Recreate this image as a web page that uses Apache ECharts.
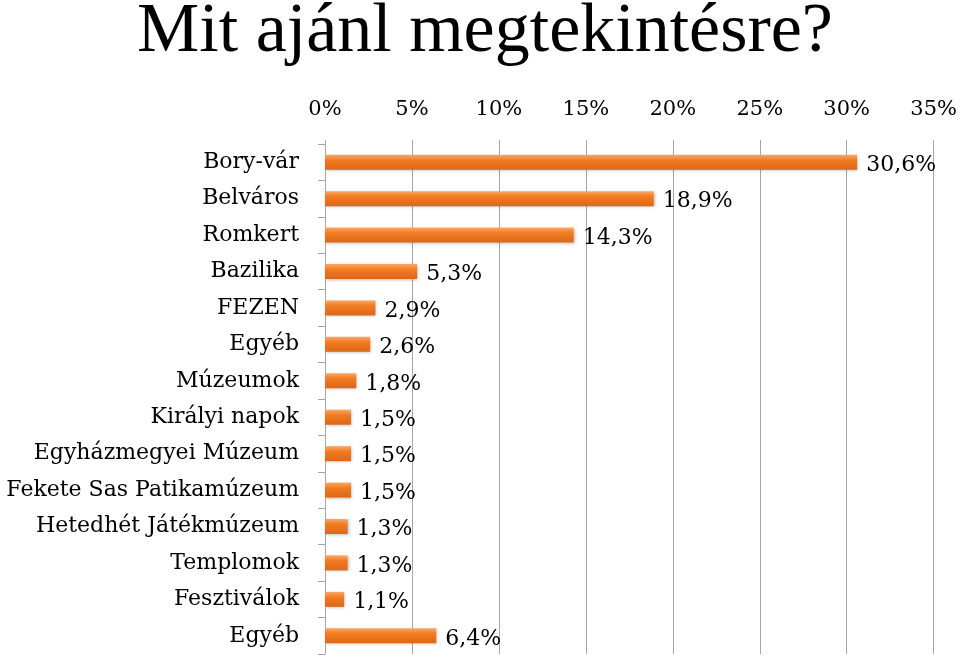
<!DOCTYPE html>
<html>
<head>
<meta charset="utf-8">
<script src="https://cdn.jsdelivr.net/npm/echarts@6/dist/echarts.min.js"></script>
<style>
html,body{margin:0;padding:0;background:#fff;}
#c{width:960px;height:657px;}
</style>
</head>
<body>
<div id="c"></div>
<script>
const titleText = 'Mit ajánl megtekintésre?';
const categories = ['Bory-vár','Belváros','Romkert','Bazilika','FEZEN','Egyéb','Múzeumok','Királyi napok','Egyházmegyei Múzeum','Fekete Sas Patikamúzeum','Hetedhét Játékmúzeum','Templomok','Fesztiválok','Egyéb'];
const values = [30.6,18.9,14.3,5.3,2.9,2.6,1.8,1.5,1.5,1.5,1.3,1.3,1.1,6.4];
const xTicks = [0,5,10,15,20,25,30,35];

const titleFont = '"Liberation Serif", "DejaVu Serif", serif';
const font = '"DejaVu Serif", "Liberation Serif", serif';
const chart = echarts.init(document.getElementById('c'));
chart.setOption({
  animation:false,
  backgroundColor:'#fff',
  title:{
    text:titleText,
    left:132, top:-7,
    textStyle:{fontFamily:titleFont,fontSize:70,fontWeight:'normal',color:'#000'}
  },
  grid:{left:325,right:22,top:144,bottom:3,containLabel:false},
  xAxis:{
    type:'value', position:'top',
    min:xTicks[0], max:xTicks[xTicks.length-1], interval:5,
    axisLine:{show:false},
    axisTick:{show:true,length:4,lineStyle:{color:'#a6a6a6'}},
    splitLine:{show:true,lineStyle:{color:'#a6a6a6',width:1}},
    axisLabel:{margin:24,fontFamily:font,fontSize:21,color:'#000',formatter:v=>v+'%'}
  },
  yAxis:{
    type:'category', inverse:true,
    data:categories,
    axisLine:{show:true,lineStyle:{color:'#a6a6a6'}},
    axisTick:{show:true,length:7,lineStyle:{color:'#a6a6a6'}},
    axisLabel:{margin:26,fontFamily:font,fontSize:22,color:'#000'}
  },
  series:[{
    type:'bar',
    data:values,
    barWidth:15,
    itemStyle:{
      color:new echarts.graphic.LinearGradient(0,0,0,1,[
        {offset:0,color:'#f9a866'},
        {offset:0.35,color:'#f37c22'},
        {offset:1,color:'#dc6717'}
      ]),
      shadowColor:'rgba(0,0,0,0.25)',shadowBlur:3,shadowOffsetX:1,shadowOffsetY:1
    },
    label:{
      show:true,position:'right',distance:9,
      fontFamily:font,fontSize:22,color:'#000',
      offset:[0,3],
      formatter:p=>p.value.toFixed(1).replace('.',',')+'%'
    }
  }]
});
</script>
</body>
</html>
